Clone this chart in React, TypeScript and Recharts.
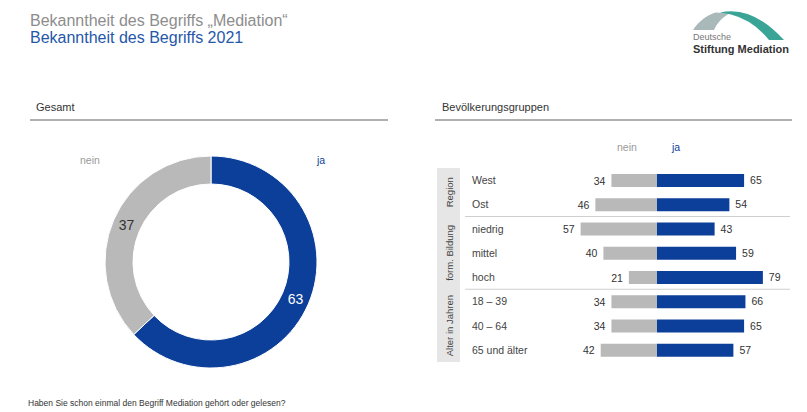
import React from "react";
import { PieChart, Pie, Cell, BarChart, Bar, XAxis, YAxis, LabelList } from "recharts";

const FONT = "'Liberation Sans', Arial, Helvetica, sans-serif";
const BLUE = "#0c3f99";
const GRAY = "#b9b9b9";

// Gesamt
const totalLabels = ["ja", "nein"];
const totalValues = [63, 37];

// Bevölkerungsgruppen
const categories = ["West", "Ost", "niedrig", "mittel", "hoch", "18 – 39", "40 – 64", "65 und älter"];
const neinValues = [34, 46, 57, 40, 21, 34, 34, 42];
const jaValues = [65, 54, 43, 59, 79, 66, 65, 57];
const groupNames = ["Region", "form. Bildung", "Alter in Jahren"];
const groupSizes = [2, 3, 3];

const pieData = totalLabels.map((name, i) => ({ name, value: totalValues[i] }));
const barData = categories.map((name, i) => ({ name, nein: -neinValues[i], ja: jaValues[i] }));

const RAD = Math.PI / 180;

const PieLabel = (props: any) => {
  const { cx, cy, midAngle, innerRadius, outerRadius, value, index } = props;
  const r = (innerRadius + outerRadius) / 2;
  const x = cx + r * Math.cos(-midAngle * RAD);
  const y = cy + r * Math.sin(-midAngle * RAD);
  return (
    <text x={x} y={y} textAnchor="middle" dominantBaseline="central" fontSize={14} fontFamily={FONT}
      fill={index === 0 ? "#ffffff" : "#333333"}>
      {value}
    </text>
  );
};

const CatTick = (props: any) => {
  const { y, payload } = props;
  return (
    <text x={52} y={y} dominantBaseline="central" fontSize={10.5} fontFamily={FONT} fill="#444">
      {payload.value}
    </text>
  );
};

const NeinLabel = (props: any) => {
  const { x, y, width, height, value } = props;
  const left = Math.min(Number(x), Number(x) + Number(width));
  return (
    <text x={left - 6} y={Number(y) + Number(height) / 2} textAnchor="end" dominantBaseline="central"
      fontSize={10.5} fill="#333" fontFamily={FONT}>
      {Math.abs(Number(value))}
    </text>
  );
};

// layout of bar plot (page coords)
const BAR_TOP = 168;
const BAR_BOTTOM = 362;
const BAND = (BAR_BOTTOM - BAR_TOP) / categories.length;

export default function App() {
  let acc = 0;
  const groups = groupSizes.map((n, gi) => {
    const start = acc;
    acc += n;
    return { name: groupNames[gi], start, end: acc };
  });

  return (
    <div style={{ position: "absolute", left: 0, top: 0, width: 807, height: 412, background: "#fff", overflow: "hidden", fontFamily: FONT }}>
      {/* text & decoration overlay */}
      <svg width={807} height={412} style={{ position: "absolute", left: 0, top: 0 }}>
        <text x={30} y={26} fontSize={16} fill="#8d8d8d" fontFamily={FONT}>Bekanntheit des Begriffs „Mediation“</text>
        <text x={30} y={43} fontSize={16} fill="#2557a9" fontFamily={FONT}>Bekanntheit des Begriffs 2021</text>

        {/* logo */}
        <path d="M693,30 C699,21 707,15 716,12.5 L729,13.5 C722,18 717,23 714,30 Z" fill="#a9b9b9" />
        <path d="M720,12.5 Q752,5 784,40 L769,40 Q753,20 731,14.5 Z" fill="#3aa597" />
        <text x={693} y={40} fontSize={9} fill="#777" fontFamily={FONT}>Deutsche</text>
        <text x={693} y={53} fontSize={11} fontWeight="bold" fill="#333" fontFamily={FONT}>Stiftung Mediation</text>

        {/* section headers */}
        <text x={36} y={111} fontSize={11} fill="#333" fontFamily={FONT}>Gesamt</text>
        <rect x={30} y={119} width={358} height={2} fill="#b0b0b0" />
        <text x={442} y={111} fontSize={11} fill="#333" fontFamily={FONT}>Bevölkerungsgruppen</text>
        <rect x={435} y={119} width={357} height={2} fill="#b0b0b0" />

        {/* pie legend labels */}
        <text x={80} y={164} fontSize={10.5} fill="#9a9a9a" fontFamily={FONT}>nein</text>
        <text x={317} y={164} fontSize={10.5} fill={BLUE} fontFamily={FONT}>ja</text>

        {/* bar header labels */}
        <text x={617} y={151} fontSize={10.5} fill="#9a9a9a" fontFamily={FONT}>nein</text>
        <text x={672} y={151} fontSize={10.5} fill={BLUE} fontFamily={FONT}>ja</text>

        {/* group box */}
        <rect x={437} y={BAR_TOP} width={23} height={BAR_BOTTOM - BAR_TOP} fill="#e6e6e6" />
        {groups.map((g, i) => {
          const cy = BAR_TOP + ((g.start + g.end) / 2) * BAND;
          return (
            <text key={i} x={0} y={0} transform={`translate(449,${cy}) rotate(-90)`} textAnchor="middle"
              dominantBaseline="central" fontSize={9.5} fill="#444" fontFamily={FONT}>{g.name}</text>
          );
        })}
        {groups.slice(0, -1).map((g, i) => (
          <rect key={i} x={465} y={BAR_TOP + g.end * BAND - 0.5} width={325} height={1} fill="#cfcfcf" />
        ))}

        <text x={28} y={406} fontSize={8.5} fill="#333" fontFamily={FONT}>Haben Sie schon einmal den Begriff Mediation gehört oder gelesen?</text>
      </svg>

      {/* donut */}
      <div style={{ position: "absolute", left: 0, top: 0 }}>
        <PieChart width={420} height={412}>
          <Pie data={pieData} dataKey="value" nameKey="name" cx={206} cy={257} innerRadius={78} outerRadius={106}
            startAngle={90} endAngle={-270} isAnimationActive={false} label={PieLabel} labelLine={false}
            stroke="#ffffff" strokeWidth={1}>
            <Cell fill={BLUE} />
            <Cell fill={GRAY} />
          </Pie>
        </PieChart>
      </div>

      {/* diverging bars */}
      <div style={{ position: "absolute", left: 420, top: 0 }}>
        <BarChart width={387} height={412} data={barData} layout="vertical" stackOffset="sign"
          margin={{ top: BAR_TOP, bottom: 412 - BAR_BOTTOM, left: 10, right: 16 }}>
          <XAxis type="number" domain={[-100, 100]} hide />
          <YAxis type="category" dataKey="name" width={93} axisLine={false} tickLine={false} tick={<CatTick />} interval={0} />
          <Bar dataKey="nein" stackId="a" fill={GRAY} barSize={13} isAnimationActive={false}>
            <LabelList dataKey="nein" content={<NeinLabel />} />
          </Bar>
          <Bar dataKey="ja" stackId="a" fill={BLUE} barSize={13} isAnimationActive={false}>
            <LabelList dataKey="ja" position="right" offset={6}
              style={{ fontSize: 10.5, fill: "#333", fontFamily: FONT }} />
          </Bar>
        </BarChart>
      </div>
    </div>
  );
}
